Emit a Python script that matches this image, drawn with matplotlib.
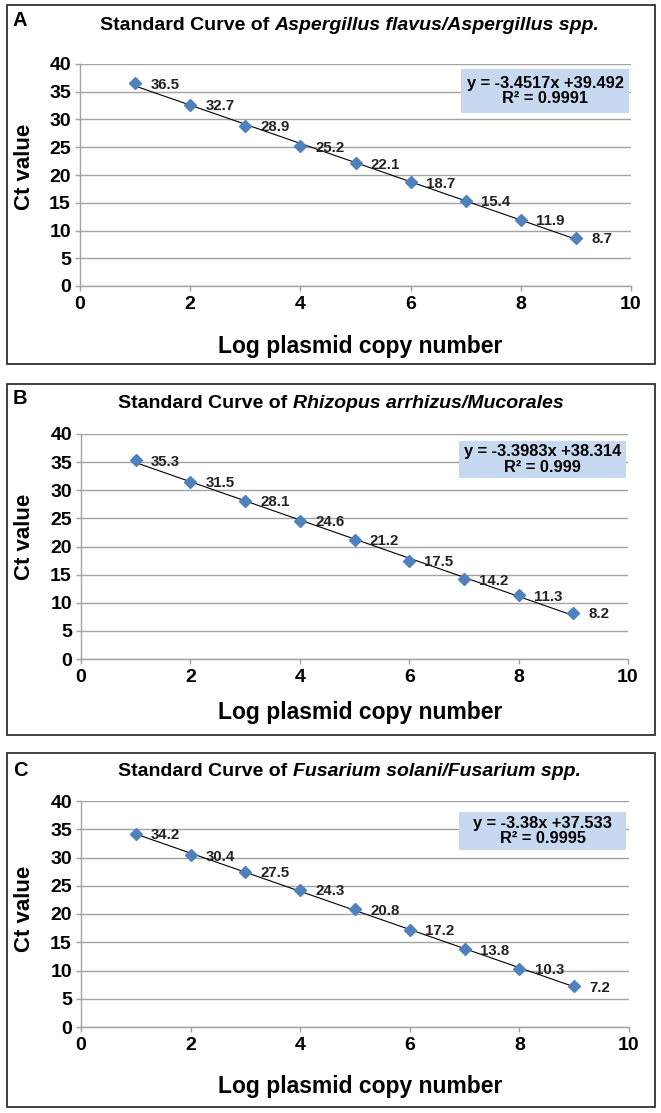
import matplotlib
matplotlib.use("Agg")
import matplotlib.pyplot as plt
import numpy as np
from matplotlib.patches import Rectangle

plt.rcParams['font.family'] = ['Liberation Sans', 'DejaVu Sans']

# data
log_copies = [1, 2, 3, 4, 5, 6, 7, 8, 9]
ct_aspergillus = [36.5, 32.7, 28.9, 25.2, 22.1, 18.7, 15.4, 11.9, 8.7]
ct_rhizopus = [35.3, 31.5, 28.1, 24.6, 21.2, 17.5, 14.2, 11.3, 8.2]
ct_fusarium = [34.2, 30.4, 27.5, 24.3, 20.8, 17.2, 13.8, 10.3, 7.2]

slopes = ['-3.4517', '-3.3983', '-3.38']
intercepts = ['39.492', '38.314', '37.533']
r_squared = ['0.9991', '0.999', '0.9995']

panel_letters = ['A', 'B', 'C']
species = ['Aspergillus flavus/Aspergillus spp.',
           'Rhizopus arrhizus/Mucorales',
           'Fusarium solani/Fusarium spp.']

x_ticks = [0, 2, 4, 6, 8, 10]
y_ticks = [0, 5, 10, 15, 20, 25, 30, 35, 40]

W, H = 661, 1113
GRID = '#a3a3a3'
MARKER = '#4f81bd'


def fx(px):
    return px / W


def fy(py):
    return 1 - py / H


# pixel layout of each panel (axes edges, frame, text anchors)
layout = [
    dict(ax=(80, 631, 64, 286), box=(5, 364), letter=21, title=(100, 25),
         ylab=167, xlab=346, eq=(461, 629, 69, 113)),
    dict(ax=(81, 628, 434, 659), box=(384, 735), letter=399, title=(118, 403),
         ylab=537, xlab=713, eq=(459, 626, 441, 478)),
    dict(ax=(81, 629, 801, 1027), box=(753, 1107), letter=771, title=(118, 772),
         ylab=909, xlab=1087, eq=(459, 626, 812, 850)),
]

series = [ct_aspergillus, ct_rhizopus, ct_fusarium]

fig = plt.figure(figsize=(W / 100, H / 100), dpi=100)
fig.patch.set_facecolor('white')

for i, lay in enumerate(layout):
    l, r, t, b = lay['ax']
    ax = fig.add_axes((fx(l), fy(b), fx(r) - fx(l), fy(t) - fy(b)))

    ct = series[i]
    slope = float(slopes[i])
    intercept = float(intercepts[i])

    # trend line from the equation shown on the chart
    xs = np.array([log_copies[0], log_copies[-1]])
    ax.plot(xs, slope * xs + intercept, color='black', lw=0.8, zorder=3)
    ax.plot(log_copies, ct, linestyle='none', marker='D', markersize=6.3,
            color=MARKER, markeredgecolor=MARKER, zorder=4)

    for x, y in zip(log_copies, ct):
        ax.annotate(f'{y}', (x, y), xytext=(11, 0), textcoords='offset points',
                    ha='left', va='center_baseline', fontsize=10.8,
                    fontweight='bold', color='#222222', zorder=5)

    ax.set_xlim(0, 10)
    ax.set_ylim(0, 40)
    ax.set_xticks(x_ticks)
    ax.set_yticks(y_ticks)
    ax.grid(axis='y', color=GRID, lw=1.0)
    ax.set_axisbelow(True)
    for side in ['top', 'right']:
        ax.spines[side].set_visible(False)
    for side in ['left', 'bottom']:
        ax.spines[side].set_color(GRID)
        ax.spines[side].set_linewidth(1.0)
    ax.tick_params(axis='both', color=GRID, length=3.5, width=1.0,
                   labelsize=14)
    ax.tick_params(axis='x', pad=4)
    ax.tick_params(axis='y', pad=3)
    for lab in ax.get_xticklabels() + ax.get_yticklabels():
        lab.set_fontweight('bold')

    # outer frame of the panel
    y0, y1 = lay['box']
    fig.patches.append(Rectangle((fx(7), fy(y1)), fx(655) - fx(7), fy(y0) - fy(y1),
                                 transform=fig.transFigure, fill=False,
                                 edgecolor='#333333', lw=1.3))

    fig.text(fx(20), fy(lay['letter']), panel_letters[i], ha='center', va='center',
             fontsize=14.5, fontweight='bold')

    # title: upright part followed by the italic species name
    tx, ty = lay['title']
    t1 = fig.text(fx(tx), fy(ty), 'Standard Curve of ', ha='left', va='center',
                  fontsize=14, fontweight='bold')
    ax.annotate(species[i], xy=(1, 0.5), xycoords=t1, ha='left', va='center',
                fontsize=14, fontweight='bold', style='italic',
                annotation_clip=False)

    fig.text(fx(25), fy(lay['ylab']), 'Ct value', rotation=90, ha='center',
             va='center', fontsize=16, fontweight='bold')
    fig.text(fx(360), fy(lay['xlab']), 'Log plasmid copy number', ha='center',
             va='center', fontsize=16.5, fontweight='bold')

    # regression equation box
    ex0, ex1, ey0, ey1 = lay['eq']
    fig.patches.append(Rectangle((fx(ex0), fy(ey1)), fx(ex1) - fx(ex0), fy(ey0) - fy(ey1),
                                 transform=fig.transFigure, facecolor='#c6d9f1',
                                 edgecolor='none', zorder=2))
    fig.text(fx((ex0 + ex1) / 2), fy((ey0 + ey1) / 2),
             f'y = {slopes[i]}x +{intercepts[i]}\nR² = {r_squared[i]}',
             ha='center', va='center', fontsize=11.8, fontweight='bold',
             linespacing=1.05, zorder=3)

fig.savefig('out.png', dpi=100, facecolor='white')
